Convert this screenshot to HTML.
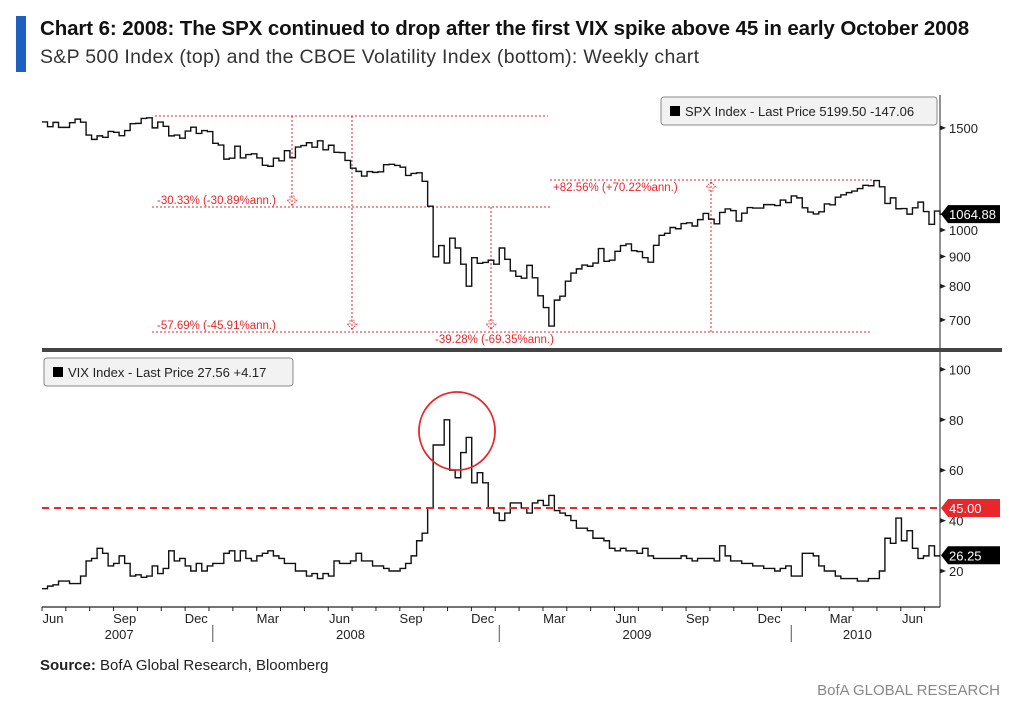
<!DOCTYPE html>
<html><head><meta charset="utf-8"><style>
body{margin:0;width:1024px;height:709px;background:#fff;font-family:"Liberation Sans",sans-serif;overflow:hidden;position:relative}
.t{position:absolute;white-space:nowrap}
</style></head><body>
<div style="position:absolute;left:16px;top:16px;width:10px;height:56px;background:#1f5fbf"></div>
<div class="t" style="left:40px;top:17px;font-size:20.5px;font-weight:bold;color:#111;letter-spacing:-0.1px">Chart 6: 2008: The SPX continued to drop after the first VIX spike above 45 in early October 2008</div>
<div class="t" style="left:40px;top:46px;font-size:19.5px;color:#333;letter-spacing:0.3px">S&amp;P 500 Index (top) and the CBOE Volatility Index (bottom): Weekly chart</div>
<div class="t" style="left:40px;top:657px;font-size:15px;color:#222"><b>Source:</b> BofA Global Research, Bloomberg</div>
<div class="t" style="right:24px;top:682px;font-size:15px;color:#888">BofA GLOBAL RESEARCH</div>
<svg id="c" width="1024" height="709" style="position:absolute;left:0;top:0" font-family="Liberation Sans, sans-serif"></svg>
<script>
const spx=[1536,1507,1533,1503,1503,1531,1553,1534,1458,1433,1453,1445,1479,1474,1454,1484,1525,1527,1557,1561,1500,1535,1509,1453,1458,1440,1481,1504,1467,1484,1478,
1411,1401,1325,1330,1395,1331,1349,1353,1331,1293,1288,1330,1316,1370,1332,1390,1398,1414,1389,1425,1375,1400,1361,1360,1318,1278,1262,1239,1261,1257,1260,1296,1298,1292,1283,1242,1252,1255,1213,1099,899,940,877,968,931,873,800,896,876,879,887,873,
931,890,850,832,826,869,827,770,735,683,757,769,816,843,857,870,866,877,929,883,887,919,940,946,921,918,896,880,941,979,987,1010,1005,1026,1029,1016,1042,1068,1044,1025,1072,1087,1080,1036,1069,1093,1091,1091,1106,1106,1102,1126,1115,
1145,1136,1092,1074,1066,1075,1109,1105,1139,1150,1160,1167,1179,1194,1192,1217,1187,1111,1136,1088,1089,1065,1092,1117,1076,1023,1078,1065];
const vix=[13,14,14.5,16,16,15,15,18,24,25,29,27,22,23,26,23,18,18.5,17.5,18,22,19,21,28,24,25,22,20,23,20,22,
23,23,27,28,24,28,25,24,26,27,28,26,25,23,23,20,20,18,19,17,19,18,24,23,23,24,27,24,24,22,22,21,20,20,21,
23,26,32,35,45,70,70,80,60,57,67,73,55,59,55,45,43,
40,43,47,47,45,43,47,48,46,50,44,43,42,40,37,37,36,33,33,32,29,28,29,28,28,27,29,26,25,25,25,25,25,26,25,24,25,25,25,24,30,26,24,24,23,23,22,22,21,21,20,21,22,
18,18,27,27,26,22,20,20,18,17,17,17,16,16,17,17,20,33,31,41,32,36,29,25,26,30,26];
const spxTicks=[700,800,900,1000,1500];
const vixTicks=[20,40,60,80,100];
const months=["Jun","Sep","Dec","Mar","Jun","Sep","Dec","Mar","Jun","Sep","Dec","Mar","Jun"];
const monthWeeks=[2,15,28,41,54,67,80,93,106,119,132,145,158];
const years=["2007","2008","2009","2010"];
const yearWeeks=[14,56,108,148];
const yearBreaks=[31,83,136];
const threshold=45;
const spxLast="1064.88", vixLast="26.25";

const svg=document.getElementById('c');const NS='http://www.w3.org/2000/svg';
function mk(t,a,p){const e=document.createElementNS(NS,t);for(const k in a)e.setAttribute(k,a[k]);(p||svg).appendChild(e);return e;}
const X0=42,X1=940;
const xs=i=>X0+i*(X1-X0)/163;
const ys=v=>230-580*Math.log10(v/1000);
const yv=v=>571-(v-20)*2.52;
function step(arr,yf,name){let d='';arr.forEach((v,i)=>{const x=xs(i),y=yf(v);if(i==0)d+='M'+x+' '+y;else d+='V'+y;d+='H'+(x+(X1-X0)/163);});
 const p=mk('path',{d:d,fill:'none',stroke:'#111','stroke-width':1.4});}
let a=mk('line',{x1:X1,y1:95,x2:X1,y2:607,stroke:'#222','stroke-width':1});
a=mk('rect',{x:X0,y:348,width:960,height:4,fill:'#444'});
a=mk('line',{x1:X0,y1:607,x2:X1,y2:607,stroke:'#222','stroke-width':1.2});
spxTicks.forEach(v=>{const y=ys(v);mk('path',{d:`M${X1} ${y-2.5}L${X1+6} ${y}L${X1} ${y+2.5}Z`,fill:'#222'});
 const t=mk('text',{x:X1+9,y:y+5,'font-size':13,fill:'#222'});t.textContent=v;});
vixTicks.forEach(v=>{const y=yv(v);mk('path',{d:`M${X1} ${y-2.5}L${X1+6} ${y}L${X1} ${y+2.5}Z`,fill:'#222'});
 const t=mk('text',{x:X1+9,y:y+5,'font-size':13,fill:'#222'});t.textContent=v;});
months.forEach((m,i)=>{const x=xs(monthWeeks[i]);const t=mk('text',{x:x,y:623,'font-size':13,fill:'#222','text-anchor':'middle'});t.textContent=m;});
for(let i=0;i<=163;i+=4.33){mk('line',{x1:xs(i),y1:607,x2:xs(i),y2:611,stroke:'#222'});}
years.forEach((m,i)=>{const t=mk('text',{x:xs(yearWeeks[i]),y:639,'font-size':13,fill:'#222','text-anchor':'middle'});t.textContent=m;});
yearBreaks.forEach(w=>mk('line',{x1:xs(w),y1:625,x2:xs(w),y2:642,stroke:'#555'}));
const R='#e8262b';
function dl(x1,y1,x2,y2){const l=mk('line',{x1:x1,y1:y1,x2:x2,y2:y2,stroke:R,'stroke-width':1,'stroke-dasharray':'2,2'});}
function txt(x,y,s){const t=mk('text',{x:x,y:y,'font-size':11.5,fill:R});t.textContent=s;}
function arr(x,y,up){mk('path',{d:up?`M${x} ${y-5}L${x-5} ${y}H${x-2}V${y+4}H${x+2}V${y}H${x+5}Z`:`M${x} ${y+5}L${x-5} ${y}H${x-2}V${y-4}H${x+2}V${y}H${x+5}Z`,fill:'none',stroke:R,'stroke-width':0.8,'stroke-dasharray':'1.5,1'});}
dl(155,116,548,116);dl(152,207,550,207);dl(152,332,872,332);dl(550,180,872,180);
dl(292,116,292,207);dl(352,116,352,330);dl(491,207,491,330);dl(711,182,711,332);
arr(292,200,false);arr(352,324,false);arr(491,324,false);arr(711,187,true);
txt(157,204,'-30.33% (-30.89%ann.)');txt(157,329,'-57.69% (-45.91%ann.)');txt(435,343,'-39.28% (-69.35%ann.)');txt(553,191,'+82.56% (+70.22%ann.)');
step(spx,ys,'spx-series');step(vix,yv,'vix-series');
a=mk('line',{x1:X0,y1:yv(threshold),x2:X1,y2:yv(threshold),stroke:R,'stroke-width':2,'stroke-dasharray':'7,5'});
a=mk('ellipse',{cx:457,cy:431,rx:38,ry:39,fill:'none',stroke:R,'stroke-width':1.8});
function tag(y,s,fill,name){const g=mk('g',{});
 mk('path',{d:`M${X1+1} ${y}L${X1+8} ${y-9}H1000V${y+9}H${X1+8}Z`,fill:fill},g);const t=mk('text',{x:X1+9,y:y+5,'font-size':13,fill:'#fff'},g);t.textContent=s;}
tag(ys(1064.88),spxLast,'#000','spx-last-tag');tag(yv(threshold),'45.00',R,'threshold-tag');tag(yv(26.25),vixLast,'#000','vix-last-tag');
function leg(x,y,w,s,name){const g=mk('g',{});
 mk('rect',{x:x,y:y,width:w,height:28,rx:3,fill:'#f2f2f2',stroke:'#888'},g);mk('rect',{x:x+9,y:y+9,width:10,height:10,fill:'#000'},g);
 const t=mk('text',{x:x+24,y:y+19,'font-size':13,fill:'#222'},g);t.textContent=s;}
leg(661,97,276,'SPX Index - Last Price 5199.50  -147.06','spx-legend');
leg(44,358,249,'VIX Index - Last Price 27.56  +4.17','vix-legend');
</script>
</body></html>
